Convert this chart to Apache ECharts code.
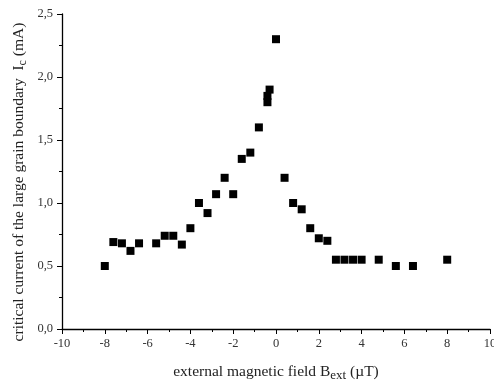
<!DOCTYPE html>
<html>
<head>
<meta charset="utf-8">
<script src="https://cdn.jsdelivr.net/npm/echarts@6/dist/echarts.min.js"></script>
<style>
  html, body { margin: 0; padding: 0; background: #fff; }
  #chart { width: 494px; height: 386px; }
</style>
</head>
<body>
<div id="chart"></div>
<script>
// External field B_ext (µT) and critical current I_c (mA)
const fieldValues = [
  -8.0, -7.6, -7.2, -6.8, -6.4, -5.6, -5.2, -4.8, -4.4, -4.0,
  -3.6, -3.2, -2.8, -2.4, -2.0, -1.6, -1.2, -0.8, -0.4, -0.4,
  -0.3, 0.0, 0.4, 0.8, 1.2, 1.6, 2.0, 2.4, 2.8, 3.2,
  3.6, 4.0, 4.8, 5.6, 6.4, 8.0
];
const currentValues = [
  0.50, 0.69, 0.68, 0.62, 0.68, 0.68, 0.74, 0.74, 0.67, 0.80,
  1.00, 0.92, 1.07, 1.20, 1.07, 1.35, 1.40, 1.60, 1.80, 1.85,
  1.90, 2.30, 1.20, 1.00, 0.95, 0.80, 0.72, 0.70, 0.55, 0.55,
  0.55, 0.55, 0.55, 0.50, 0.50, 0.55
];

const points = fieldValues.map((b, i) => [b, currentValues[i]]);

const fmtComma = v => v.toFixed(1).replace('.', ',');

const chart = echarts.init(document.getElementById('chart'), null, { renderer: 'canvas' });

const fontFamily = '"Liberation Serif", "DejaVu Serif", serif';
const tickStyle = { show: true, inside: false, length: 5, lineStyle: { color: '#000', width: 1 } };
const minorStyle = { show: true, splitNumber: 2, length: 3, lineStyle: { color: '#000', width: 1 } };

chart.setOption({
  animation: false,
  backgroundColor: '#fff',
  grid: { left: 62, right: 4, top: 14, bottom: 57, outerBoundsMode: 'none', containLabel: false },
  xAxis: {
    type: 'value',
    min: -10, max: 10, interval: 2,
    axisLine: { show: true, onZero: false, lineStyle: { color: '#000', width: 1.3 } },
    axisTick: tickStyle,
    minorTick: minorStyle,
    splitLine: { show: false },
    axisLabel: { color: '#333', fontFamily: fontFamily, fontSize: 12.5, margin: 8 },
    name: 'external magnetic field B{sub|ext} (µT)',
    nameLocation: 'middle',
    nameGap: 32,
    nameTextStyle: {
      color: '#222', fontFamily: fontFamily, fontSize: 15.5,
      rich: { sub: { fontFamily: fontFamily, fontSize: 13, color: '#222', padding: [8, 0, 0, 0] } }
    }
  },
  yAxis: {
    type: 'value',
    min: 0, max: 2.5, interval: 0.5,
    axisLine: { show: true, onZero: false, lineStyle: { color: '#000', width: 1.3 } },
    axisTick: tickStyle,
    minorTick: minorStyle,
    splitLine: { show: false },
    axisLabel: { color: '#333', fontFamily: fontFamily, fontSize: 12.5, margin: 9, formatter: fmtComma }
  },
  // vertical axis title, placed by hand so it sits slightly below the axis centre
  graphic: [{
    type: 'text',
    x: 19,
    y: 182,
    rotation: Math.PI / 2,
    style: {
      text: 'critical current of the large grain boundary  I{sub|c} (mA)',
      fill: '#222',
      font: '15.5px "Liberation Serif", "DejaVu Serif", serif',
      align: 'center',
      verticalAlign: 'middle',
      rich: { sub: { fontFamily: fontFamily, fontSize: 12, fill: '#222', padding: [8, 0, 0, 0] } }
    }
  }],
  series: [{
    type: 'scatter',
    data: points,
    symbol: 'rect',
    symbolSize: 8,
    itemStyle: { color: '#000', opacity: 1 }
  }]
});
</script>
</body>
</html>
